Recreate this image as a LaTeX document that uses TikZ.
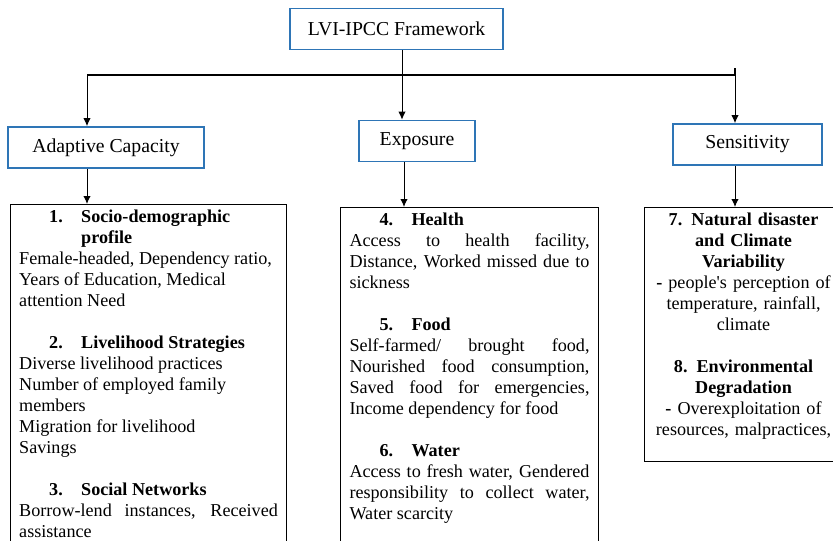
\documentclass[tikz,border=0pt]{standalone}
\usepackage{fontspec}
\setmainfont{Liberation Serif}
\usetikzlibrary{arrows.meta}
\definecolor{headblue}{RGB}{46,117,182}
\setlength{\parindent}{0pt}
\newcommand{\ithead}[2]{\hspace*{22.5pt}\makebox[24pt][l]{\textbf{#1}}\textbf{#2}}

\begin{document}
\begin{tikzpicture}[x=0.75pt,y=-0.75pt]
   \tikzstyle{head}=[draw=headblue, line width=1.2pt, fill=white, font=\fontsize{14.8}{17}\selectfont, minimum height=30.75pt, inner sep=0pt]
   \tikzstyle{body}=[draw, line width=0.8pt, anchor=north west, inner ysep=3.75pt, font=\fontsize{13.6}{15.75}\selectfont]
   \tikzstyle{arr}=[line width=0.75pt, -{Latex[length=6pt,width=5.5pt]}]

\useasboundingbox (0,0) rectangle (833,540);
\clip (0,0) rectangle (833,540);

\node[head, minimum width=159.75pt] (lvi) at (396.5,29) {LVI-IPCC Framework};
\node[head, minimum width=147pt] (adapt) at (106,147.5) {Adaptive Capacity};
\node[head, minimum width=87pt] (expo) at (417,141) {Exposure};
\node[head, minimum width=111.75pt] (sens) at (747.5,144.5) {Sensitivity};

\coordinate (busl) at (87,75);
\coordinate (busm) at (402,75);
\coordinate (busr) at (735,75);

\node[body, text width=194pt, inner xsep=5.25pt, minimum width=207pt, align=justify] (acbox) at (10,204) {%
\ithead{1.}{Socio-demographic}\newline
\hspace*{46.5pt}\textbf{profile}\newline
Female-headed, Dependency ratio,\newline
Years of Education, Medical\newline
attention Need\\[15.75pt]
\ithead{2.}{Livelihood Strategies}\newline
Diverse livelihood practices\newline
Number of employed family\newline
members\newline
Migration for livelihood\newline
Savings\\[15.75pt]
\ithead{3.}{Social Networks}\newline
Borrow-lend instances, Received\linebreak
assistance\rule[-40pt]{0pt}{0pt}};

\node[body, text width=180pt, inner xsep=6.75pt, align=justify] (exbox) at (340,207) {%
\ithead{4.}{Health}\newline
Access to health facility,\linebreak
Distance, Worked missed due to\linebreak
sickness\\[15.75pt]
\ithead{5.}{Food}\newline
Self-farmed/ brought food,\linebreak
Nourished food consumption,\linebreak
Saved food for emergencies,\linebreak
Income dependency for food\\[15.75pt]
\ithead{6.}{Water}\newline
Access to fresh water, Gendered\linebreak
responsibility to collect water,\linebreak
Water scarcity\rule[-40pt]{0pt}{0pt}};

\node[body, text width=142.5pt, inner xsep=3pt, align=center] (sebox) at (644,207) {%
\textbf{7. Natural disaster}\\
\textbf{and Climate}\\
\textbf{Variability}\\
\textbf{-} people\textquotesingle s perception of\\
temperature, rainfall,\\
climate\\[15.75pt]
\textbf{8. Environmental}\\
\textbf{Degradation}\\
\textbf{-} Overexploitation of\\
resources, malpractices,\rule[-16pt]{0pt}{0pt}};

\draw[line width=1.2pt] (busl) -- (busr) -- ++(0,-7);
\draw[arr] (lvi.south -| busm) -- (expo.north -| busm);
\draw[arr] (busl) -- (adapt.north -| busl);
\draw[arr] (busr) -- (sens.north -| busr);

\draw[arr] (adapt.south -| busl) -- (acbox.north -| busl);
\draw[arr] (expo.south -| 404,0) -- (exbox.north -| 404,0);
\draw[arr] (sens.south -| busr) -- (sebox.north -| busr);

\end{tikzpicture}
\end{document}
